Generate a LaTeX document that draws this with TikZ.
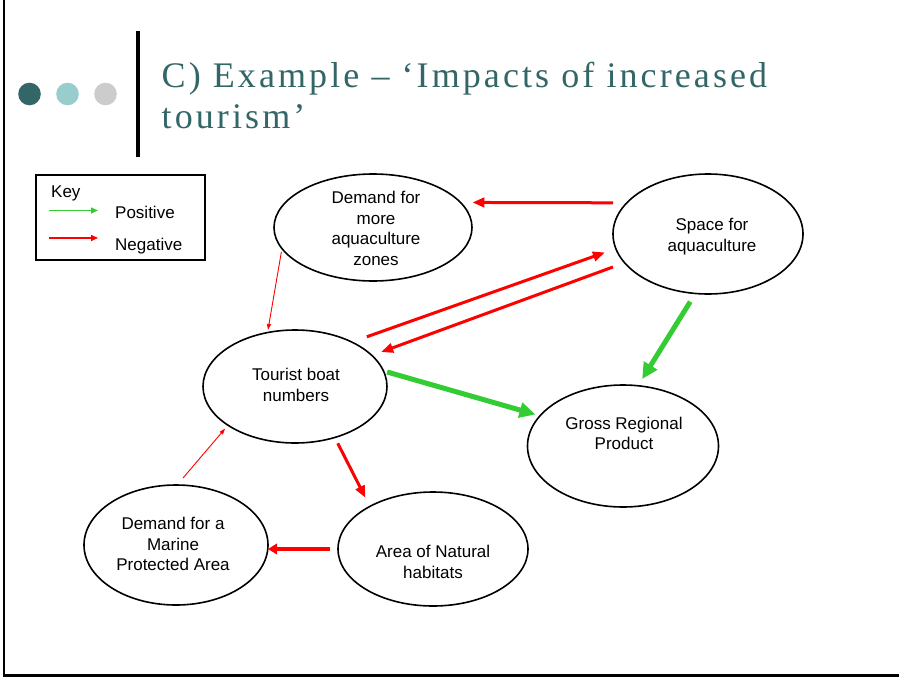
\documentclass[tikz,border=0pt]{standalone}
\usepackage{fontspec}
\setmainfont{Liberation Sans}
\newfontfamily\titlefont[LetterSpace=8.6]{Liberation Serif}
\usetikzlibrary{arrows.meta,shapes.geometric}
\definecolor{tealdark}{RGB}{51,102,102}
\definecolor{teallight}{RGB}{153,204,204}
\definecolor{greylight}{RGB}{204,204,204}
\definecolor{posgreen}{RGB}{51,204,51}
\definecolor{negred}{RGB}{255,0,0}
\begin{document}
\begin{tikzpicture}[x=1pt,y=-1pt,
  ell/.style={draw, ellipse, line width=1.6pt, inner sep=0pt, outer sep=0pt},
  txt/.style={align=center, inner sep=0pt, font=\fontsize{17}{20.8}\selectfont},
  keytxt/.style={anchor=base west, inner sep=0pt, font=\fontsize{17}{20.8}\selectfont},
  dot/.style={circle, inner sep=0pt, minimum size=22.6pt},
  titletxt/.style={anchor=base west, inner sep=0pt, text=tealdark, font=\titlefont\fontsize{36}{41}\selectfont},
  negarrow/.style={draw=negred, line width=3pt, -{Triangle[length=12pt,width=9.5pt]}},
  negthick/.style={draw=negred, line width=4pt, -{Triangle[length=9pt,width=10.5pt]}},
  negthin/.style={draw=negred, line width=0.9pt, -{Triangle[length=6pt,width=4pt]}},
  posarrow/.style={draw=posgreen, line width=5pt, -{Triangle[length=16pt,width=15pt]}},
  keyneg/.style={draw=negred, line width=1.5pt, -{Triangle[length=7pt,width=6pt]}},
  keypos/.style={draw=posgreen, line width=1.5pt, -{Triangle[length=7pt,width=6pt]}},
]
\useasboundingbox (0,0) rectangle (899,677);
\fill[white] (0,0) rectangle (899,677);
% frame
\draw[line width=2pt] (4,0) -- (4,677);
\draw[line width=3pt] (3,675.5) -- (899,675.5);
% header
\node[dot, fill=tealdark] (dot1) at (29.5,94) {};
\node[dot, fill=teallight] (dot2) at (67.5,94) {};
\node[dot, fill=greylight] (dot3) at (105.5,94) {};
\draw[line width=4pt] (137.5,31) -- (137.5,157);
\node[titletxt] (title1) at (161.5,87) {C) Example – ‘Impacts of increased};
\node[titletxt] (title2) at (161.5,128) {tourism’};
% key
\node[draw, line width=1.6pt, anchor=north west, minimum width=169pt, minimum height=85pt, inner sep=0pt] (key) at (35,174) {};
\node[keytxt] (keylabel) at (51,197) {Key};
\coordinate (kp1) at (49,210.5);
\coordinate (kp2) at (98,210.5);
\draw[keypos] (kp1) -- (kp2);
\node[keytxt] (kpos) at (115,218.5) {Positive};
\coordinate (kn1) at (49,238);
\coordinate (kn2) at (98,238);
\draw[keyneg] (kn1) -- (kn2);
\node[keytxt] (kneg) at (115,250) {Negative};
% ellipses
\node[ell, minimum width=198pt, minimum height=107pt] (dem) at (373,227.5) {};
\node[ell, minimum width=190pt, minimum height=120pt] (spc) at (708,234) {};
\node[ell, minimum width=184pt, minimum height=113pt] (tour) at (295,386.5) {};
\node[ell, minimum width=191pt, minimum height=122pt] (grp) at (623,446) {};
\node[ell, minimum width=184pt, minimum height=120pt] (mpa) at (176,545) {};
\node[ell, minimum width=190pt, minimum height=114pt] (nat) at (433,549) {};
% texts
\node[txt] (demT) at (376,228.5) {Demand for\\more\\aquaculture\\zones};
\node[txt] (spcT) at (712,237) {Space for\\aquaculture};
\node[txt] (tourT) at (296,385) {Tourist boat\\numbers};
\node[txt] (grpT) at (624,433.5) {Gross Regional\\Product};
\node[txt] (mpaT) at (173,544) {Demand for a\\Marine\\Protected Area};
\node[txt] (natT) at (433,562) {Area of Natural\\habitats};
% connectors
\draw[negarrow, shorten <=13.7pt, shorten >=12pt] (spc.159) -- (dem.16);
\draw[negarrow, shorten <=15.9pt, shorten >=11.6pt] (tour.38) -- (spc.-171);
\draw[negarrow, shorten <=12.4pt, shorten >=9.9pt] (spc.-161) -- (tour.22);
\draw[posarrow, shorten <=3.9pt, shorten >=4.75pt] (tour.10) -- (grp.160);
\draw[posarrow, shorten <=9.7pt, shorten >=7.9pt] (spc.-102) -- (grp.76);
\draw[negthin, shorten <=3.4pt, shorten >=2.7pt] (dem.-167) -- (tour.117);
\draw[negarrow, shorten <=6.55pt, shorten >=9.7pt] (tour.-52) -- (nat.146);
\draw[negthick, shorten <=8pt] (nat.west) -- (nat.west -| mpa.east);
\draw[negthin, shorten <=9.2pt, shorten >=4.45pt] (mpa.89) -- (tour.-150);
\end{tikzpicture}
\end{document}
